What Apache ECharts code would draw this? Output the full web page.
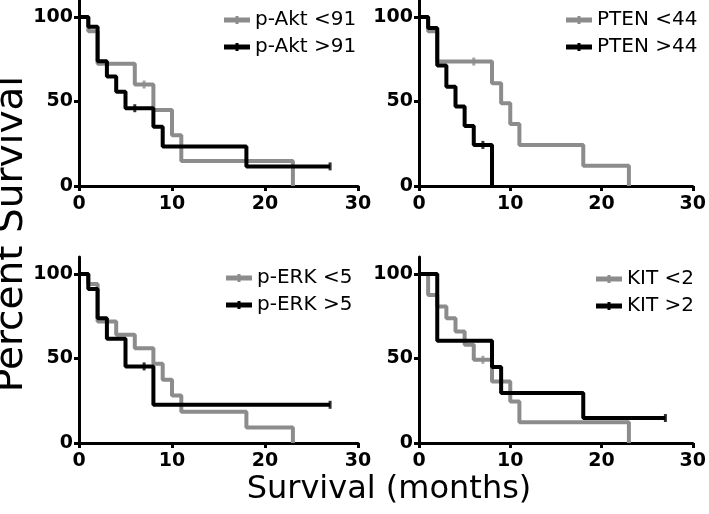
<!DOCTYPE html>
<html>
<head>
<meta charset="utf-8">
<script src="https://cdn.jsdelivr.net/npm/echarts@6/dist/echarts.min.js"></script>
<style>
  html, body { margin: 0; padding: 0; background: #fff; }
  #main { width: 709px; height: 514px; }
</style>
</head>
<body>
<div id="main"></div>
<script>
// survival curves: [month, percent survival] at each step
var aktLow = [[0, 100], [1, 91.5], [2, 72.3], [6, 60], [8, 45], [10, 30], [11, 14.8], [23, 0]];
var aktHigh = [[0, 100], [1, 94.2], [2, 73.8], [3, 64.7], [4, 55.8], [5, 46], [8, 35], [9, 23.3], [18, 11.6], [27, 11.6]];
var ptenLow = [[0, 100], [1, 91.5], [2, 73.6], [8, 60.8], [9, 49], [10, 36.7], [11, 24.3], [18, 12], [23, 0]];
var ptenHigh = [[0, 100], [1, 93.5], [2, 71.2], [3, 58.7], [4, 47], [5, 35.5], [6, 24.3], [8, 0]];
var erkLow = [[0, 100], [1, 94.1], [2, 71.8], [4, 64], [6, 56], [8, 46.8], [9, 37.4], [10, 28.1], [11, 18.5], [18, 9.1], [23, 0]];
var erkHigh = [[0, 100], [1, 91.1], [2, 73.8], [3, 61.6], [5, 45.3], [8, 22.6], [27, 22.6]];
var kitLow = [[0, 100], [1, 87.6], [2, 80.7], [3, 73.8], [4, 65.9], [5, 58.1], [6, 49.2], [8, 36.4], [10, 24.6], [11, 12.2], [23, 0]];
var kitHigh = [[0, 100], [2, 60.5], [8, 45], [9, 29.5], [18, 14.8], [27, 14.8]];

// censored observations (tick marks)
var aktLowCens = [[7, 60]];
var aktHighCens = [[6, 46], [27, 11.6]];
var ptenLowCens = [[6, 73.6]];
var ptenHighCens = [[7, 24.3]];
var erkHighCens = [[7, 45.3], [27, 22.6]];
var kitLowCens = [[7, 49.2]];
var kitHighCens = [[27, 14.8]];

var names = [['p-Akt <91', 'p-Akt >91'], ['PTEN <44', 'PTEN >44'], ['p-ERK <5', 'p-ERK >5'], ['KIT <2', 'KIT >2']];
var xTicks = [0, 10, 20, 30];
var yTicks = [0, 50, 100];

var GRAY = '#8c8c8c', BLACK = '#000';
var FONT = '"DejaVu Sans", sans-serif';

var panels = [
    { low: aktLow, high: aktHigh, lowC: aktLowCens, highC: aktHighCens },
    { low: ptenLow, high: ptenHigh, lowC: ptenLowCens, highC: ptenHighCens },
    { low: erkLow, high: erkHigh, lowC: [], highC: erkHighCens },
    { low: kitLow, high: kitHigh, lowC: kitLowCens, highC: kitHighCens }
];

var grids = [
    { left: 79, top: 0, width: 279, height: 186 },
    { left: 419, top: 0, width: 279, height: 186 },
    { left: 79, top: 257, width: 279, height: 186 },
    { left: 419, top: 257, width: 279, height: 186 }
];
var legendPos = [
    { left: 219, top: 5 },
    { left: 561, top: 5 },
    { left: 221, top: 263 },
    { left: 591, top: 264 }
];

var xAxes = [], yAxes = [], series = [], legends = [];
var legendIcon = 'path://M0,2H26V7H0Z M11.5,0.5H14.5V8.5H11.5Z';

for (var i = 0; i < 4; i++) {
    xAxes.push({
        gridIndex: i, type: 'value', min: 0, max: 30, interval: 10,
        splitLine: { show: false },
        axisLine: { lineStyle: { color: '#000', width: 3 } },
        axisTick: { length: 5, lineStyle: { color: '#000', width: 3 } },
        axisLabel: { color: '#000', fontFamily: FONT, fontWeight: 'bold', fontSize: 19, margin: 9 }
    });
    yAxes.push({
        gridIndex: i, type: 'value', min: 0, max: 110,
        splitLine: { show: false },
        axisLine: { show: true, lineStyle: { color: '#000', width: 3 } },
        axisTick: { show: true, length: 5, customValues: yTicks, lineStyle: { color: '#000', width: 3 } },
        axisLabel: { color: '#000', fontFamily: FONT, fontWeight: 'bold', fontSize: 19, margin: 6, customValues: yTicks }
    });
    var p = panels[i];
    var curves = [[p.low, p.lowC, GRAY, names[i][0]], [p.high, p.highC, BLACK, names[i][1]]];
    curves.forEach(function (c) {
        series.push({
            name: c[3], type: 'line', step: 'end', xAxisIndex: i, yAxisIndex: i,
            data: c[0], symbol: 'none', color: c[2],
            lineStyle: { color: c[2], width: 4 },
            itemStyle: { color: c[2] },
            animation: false, z: c[2] === GRAY ? 2 : 3
        });
        series.push({
            name: c[3] + ' censored', type: 'scatter', xAxisIndex: i, yAxisIndex: i,
            data: c[1], symbol: 'rect', symbolSize: [3, 8],
            itemStyle: { color: c[2] }, animation: false, z: 4
        });
    });
    legends.push({
        left: legendPos[i].left, top: legendPos[i].top, orient: 'vertical',
        data: names[i], icon: legendIcon, itemWidth: 26, itemHeight: 9, itemGap: 7,
        selectedMode: false,
        textStyle: { color: '#000', fontFamily: FONT, fontSize: 20 }
    });
}

var chart = echarts.init(document.getElementById('main'));
chart.setOption({
    animation: false,
    backgroundColor: '#fff',
    grid: grids,
    xAxis: xAxes,
    yAxis: yAxes,
    legend: legends,
    series: series,
    graphic: [
        {
            type: 'text', x: 12, y: 234, rotation: Math.PI / 2,
            style: { text: 'Percent Survival', font: '39px ' + FONT, fill: '#000', textAlign: 'center', textVerticalAlign: 'middle' }
        },
        {
            type: 'text', x: 389, y: 490,
            style: { text: 'Survival (months)', font: '32px ' + FONT, fill: '#000', textAlign: 'center', textVerticalAlign: 'middle' }
        }
    ]
});
</script>
</body>
</html>
